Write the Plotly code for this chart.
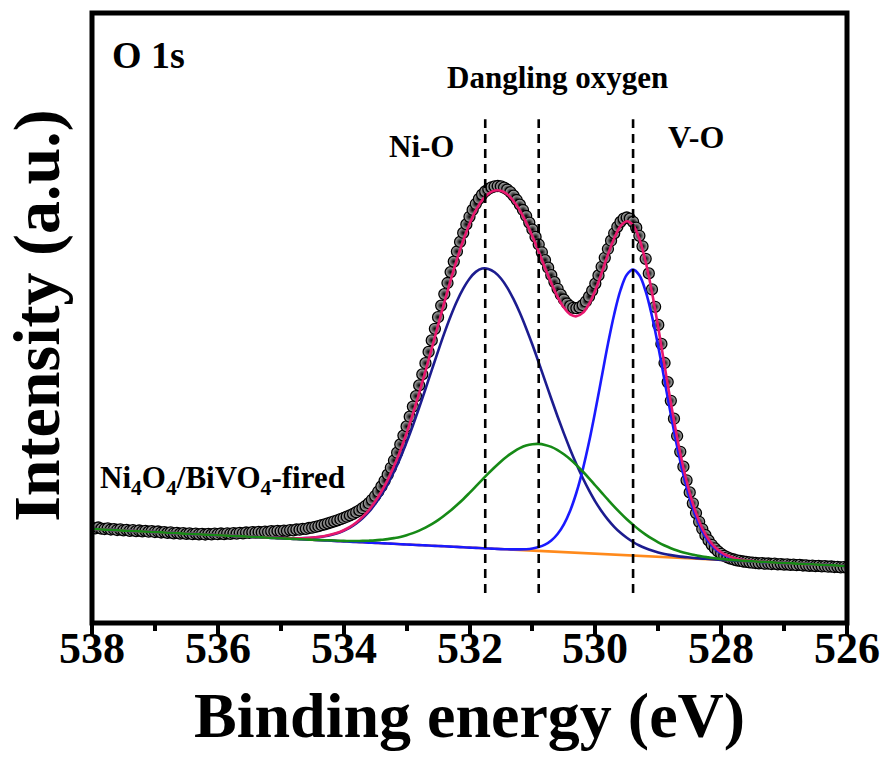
import numpy as np
import plotly.graph_objects as go

# ---------------------------------------------------------------
# O 1s XPS spectrum of Ni4O4/BiVO4-fired with its peak fit
# ---------------------------------------------------------------

# Binding-energy sampling (eV): spectrum every 0.05 eV, fit curves every 0.1 eV
BE_START = 538.0
DATA_STEP = 0.05
FIT_STEP = 0.1

# Measured intensity (a.u.), 538.00 eV -> 526.00 eV
intensity = [
    9.52, 9.47, 9.55, 9.44, 9.40, 9.46, 9.35, 9.38, 9.30, 9.36,
    9.27, 9.31, 9.22, 9.28, 9.19, 9.25, 9.16, 9.21, 9.13, 9.18,
    9.10, 9.15, 9.05, 9.09, 9.01, 9.06, 8.97, 9.02, 8.94, 8.99,
    8.91, 8.96, 8.88, 8.94, 8.87, 8.92, 8.85, 8.91, 8.86, 8.93,
    8.88, 8.95, 8.89, 8.97, 8.92, 8.99, 8.94, 9.02, 8.97, 9.05,
    9.01, 9.08, 9.03, 9.11, 9.06, 9.14, 9.10, 9.18, 9.13, 9.21,
    9.17, 9.24, 9.21, 9.29, 9.27, 9.35, 9.33, 9.41, 9.42, 9.50,
    9.53, 9.62, 9.68, 9.78, 9.86, 9.97, 10.06, 10.17, 10.27, 10.38,
    10.50, 10.63, 10.76, 10.91, 11.08, 11.27, 11.48, 11.72, 11.98,
    12.32, 12.70, 13.15, 13.66, 14.22, 14.84, 15.52, 16.25, 17.03, 17.86,
    18.74, 19.66, 20.63, 21.64, 22.69, 23.76, 24.86, 25.98, 27.11, 28.26,
    29.42, 30.58, 31.74, 32.89, 34.00, 35.09, 36.14, 37.15, 38.11, 39.01,
    39.86, 40.62, 41.31, 41.90, 42.41, 42.84, 43.16, 43.40, 43.57, 43.66,
    43.70, 43.66, 43.54, 43.35, 43.09, 42.74, 42.30, 41.84, 41.30, 40.70,
    40.04, 39.35, 38.61, 37.85, 37.07, 36.29, 35.53, 34.78, 34.09, 33.42,
    32.84, 32.35, 31.95, 31.68, 31.52, 31.48, 31.57, 31.79, 32.15, 32.63,
    33.24, 33.94, 34.76, 35.62, 36.52, 37.40, 38.23, 38.97, 39.62, 40.11,
    40.43, 40.55, 40.43, 40.12, 39.53, 38.72, 37.67, 36.42, 34.96, 33.36,
    31.62, 29.81, 27.91, 26.00, 24.09, 22.22, 20.43, 18.70, 17.12, 15.63,
    14.27, 13.06, 11.97, 10.99, 10.12, 9.40, 8.78, 8.26, 7.82, 7.46,
    7.16, 6.92, 6.71, 6.56, 6.44, 6.35, 6.27, 6.21, 6.15, 6.11,
    6.07, 6.03,
    6.00, 5.96, 5.99, 5.93, 5.95, 5.90, 5.93, 5.87, 5.89, 5.84,
    5.87, 5.81, 5.83, 5.78, 5.81, 5.75, 5.77, 5.72, 5.74, 5.69,
    5.71, 5.66, 5.68, 5.63, 5.65, 5.60, 5.62, 5.57, 5.59, 5.55,
]

# Fitted components (background included), 538.0 eV -> 526.0 eV
fit_ni_o = [
    9.40, 9.37, 9.34, 9.31, 9.27, 9.24, 9.21, 9.18, 9.15, 9.12,
    9.09, 9.06, 9.03, 9.00, 8.96, 8.93, 8.90, 8.87, 8.84, 8.81,
    8.78, 8.75, 8.72, 8.69, 8.66, 8.63, 8.60, 8.57, 8.54, 8.52,
    8.50, 8.48, 8.48, 8.48, 8.50, 8.53, 8.59, 8.68, 8.81, 8.98,
    9.23, 9.54, 9.95, 10.47, 11.10, 11.89, 12.81, 13.88, 15.12, 16.51,
    18.06, 19.74, 21.53, 23.40, 25.29, 27.17, 28.99, 30.68, 32.18, 33.44,
    34.43, 35.11, 35.44, 35.41, 35.08, 34.45, 33.54, 32.38, 31.02, 29.48,
    27.82, 26.05, 24.23, 22.42, 20.65, 18.96, 17.36, 15.87, 14.50, 13.26,
    12.14, 11.18, 10.34, 9.62, 9.02, 8.52, 8.10, 7.75, 7.48, 7.25,
    7.06, 6.91, 6.79, 6.69, 6.61, 6.55, 6.49, 6.44, 6.40, 6.35,
    6.31, 6.27, 6.24, 6.21, 6.18, 6.15, 6.12, 6.09, 6.06, 6.03,
    6.00, 5.97, 5.94, 5.92, 5.89, 5.85, 5.82, 5.79, 5.76, 5.73,
    5.70,
]
fit_dangling = [
    9.40, 9.37, 9.34, 9.31, 9.27, 9.24, 9.21, 9.18, 9.15, 9.12,
    9.09, 9.06, 9.03, 9.00, 8.96, 8.93, 8.90, 8.87, 8.84, 8.81,
    8.78, 8.75, 8.72, 8.69, 8.66, 8.63, 8.60, 8.56, 8.53, 8.50,
    8.47, 8.44, 8.41, 8.38, 8.35, 8.33, 8.30, 8.28, 8.26, 8.23,
    8.21, 8.20, 8.20, 8.21, 8.23, 8.26, 8.32, 8.39, 8.49, 8.61,
    8.78, 8.99, 9.24, 9.54, 9.89, 10.29, 10.75, 11.24, 11.80, 12.38,
    13.01, 13.66, 14.31, 14.96, 15.58, 16.16, 16.68, 17.12, 17.48, 17.74,
    17.88, 17.91, 17.81, 17.61, 17.29, 16.87, 16.37, 15.79, 15.15, 14.47,
    13.75, 13.04, 12.33, 11.64, 10.99, 10.37, 9.82, 9.30, 8.84, 8.43,
    8.07, 7.75, 7.48, 7.25, 7.06, 6.90, 6.77, 6.65, 6.56, 6.47,
    6.40, 6.34, 6.29, 6.25, 6.21, 6.17, 6.13, 6.10, 6.06, 6.03,
    6.00, 5.97, 5.94, 5.92, 5.89, 5.85, 5.82, 5.79, 5.76, 5.73,
    5.70,
]
fit_v_o = [
    9.40, 9.37, 9.34, 9.31, 9.27, 9.24, 9.21, 9.18, 9.15, 9.12,
    9.09, 9.06, 9.03, 9.00, 8.96, 8.93, 8.90, 8.87, 8.84, 8.81,
    8.78, 8.75, 8.72, 8.69, 8.66, 8.63, 8.60, 8.56, 8.53, 8.50,
    8.47, 8.44, 8.41, 8.38, 8.35, 8.32, 8.29, 8.26, 8.23, 8.19,
    8.16, 8.13, 8.10, 8.07, 8.04, 8.01, 7.98, 7.95, 7.92, 7.88,
    7.85, 7.82, 7.79, 7.76, 7.73, 7.70, 7.67, 7.64, 7.61, 7.57,
    7.54, 7.51, 7.48, 7.45, 7.42, 7.39, 7.37, 7.36, 7.36, 7.38,
    7.45, 7.59, 7.83, 8.25, 8.90, 9.87, 11.23, 13.05, 15.34, 18.09,
    21.22, 24.57, 27.90, 30.88, 33.28, 34.83, 35.34, 34.77, 33.16, 30.70,
    27.66, 24.26, 20.85, 17.65, 14.84, 12.49, 10.61, 9.19, 8.16, 7.44,
    6.96, 6.65, 6.45, 6.32, 6.24, 6.18, 6.13, 6.09, 6.06, 6.03,
    6.00, 5.97, 5.94, 5.92, 5.89, 5.85, 5.82, 5.79, 5.76, 5.73,
    5.70,
]
fit_envelope = [
    9.40, 9.37, 9.34, 9.31, 9.27, 9.24, 9.21, 9.18, 9.15, 9.12,
    9.09, 9.06, 9.03, 9.00, 8.96, 8.93, 8.90, 8.87, 8.84, 8.81,
    8.78, 8.75, 8.72, 8.69, 8.66, 8.63, 8.60, 8.57, 8.54, 8.52,
    8.50, 8.48, 8.48, 8.48, 8.50, 8.54, 8.60, 8.70, 8.84, 9.02,
    9.28, 9.61, 10.05, 10.61, 11.29, 12.14, 13.15, 14.32, 15.69, 17.24,
    18.99, 20.91, 22.98, 25.18, 27.45, 29.76, 32.07, 34.28, 36.37, 38.25,
    39.90, 41.26, 42.27, 42.92, 43.24, 43.23, 42.87, 42.20, 41.26, 40.06,
    38.67, 37.13, 35.53, 34.00, 32.62, 31.54, 30.86, 30.67, 31.01, 31.90,
    33.27, 35.01, 36.85, 38.48, 39.69, 40.18, 39.78, 38.40, 36.12, 33.08,
    29.55, 25.76, 22.02, 18.55, 15.53, 13.02, 11.01, 9.48, 8.38, 7.60,
    7.07, 6.72, 6.50, 6.35, 6.26, 6.19, 6.14, 6.10, 6.06, 6.03,
    6.00, 5.97, 5.94, 5.92, 5.89, 5.85, 5.82, 5.79, 5.76, 5.73,
    5.70,
]

# Shirley-type background
bg_energy = [538, 537, 536, 535, 534, 533, 532, 531, 530, 529, 528, 527, 526]
background = [9.40, 9.09, 8.78, 8.47, 8.16, 7.85, 7.54, 7.24, 6.92, 6.62, 6.30, 6.00, 5.70]

# Component centres (eV) marked with dashed guides
peak_centres = [531.75, 530.9, 529.4]

x_ticks = [538, 536, 534, 532, 530, 528, 526]

be_data = np.round(BE_START - DATA_STEP * np.arange(len(intensity)), 2)
be_fit = np.round(BE_START - FIT_STEP * np.arange(len(fit_envelope)), 2)
for series in (fit_ni_o, fit_dangling, fit_v_o):
    assert len(series) == len(be_fit)

SERIF = "Liberation Serif, Times New Roman, serif"

fig = go.Figure()

# measured points: dark shaded spheres
fig.add_trace(go.Scatter(
    x=be_data, y=intensity, mode="markers",
    marker=dict(size=11, color="#bdbdbd",
                gradient=dict(type="radial", color="#000000"),
                line=dict(color="#000000", width=1.3)),
    showlegend=False,
))

line_kw = dict(mode="lines", line_shape="spline", showlegend=False)
fig.add_trace(go.Scatter(x=bg_energy, y=background, mode="lines",
                         line=dict(color="#ff8a1c", width=2.6), showlegend=False))
fig.add_trace(go.Scatter(x=be_fit, y=fit_ni_o, line=dict(color="#1c1c8f", width=2.6), **line_kw))
fig.add_trace(go.Scatter(x=be_fit, y=fit_v_o, line=dict(color="#1a1aff", width=2.6), **line_kw))
fig.add_trace(go.Scatter(x=be_fit, y=fit_envelope, line=dict(color="#e8186e", width=2.6), **line_kw))
fig.add_trace(go.Scatter(x=be_fit, y=fit_dangling, line=dict(color="#168a16", width=2.6), **line_kw))

shapes = []
for c in peak_centres:
    shapes.append(dict(type="line", xref="x", yref="paper", x0=c, x1=c, y0=0.049, y1=0.826,
                       line=dict(color="black", width=2.6, dash="9px,6px")))
# plot frame
shapes.append(dict(type="rect", xref="paper", yref="paper", x0=0, x1=1, y0=0, y1=1,
                   line=dict(color="black", width=5)))


def label(text, x, y, size, xanchor="center", angle=0, xref="paper"):
    return dict(text=f"<b>{text}</b>", x=x, y=y, xref=xref, yref="paper",
                xanchor=xanchor, yanchor="middle", showarrow=False, textangle=angle,
                font=dict(family=SERIF, size=size, color="black"))


annotations = [
    label("O 1s", 0.024, 0.931, 38, xanchor="left"),
    label("Dangling oxygen", 0.617, 0.895, 31),
    label("Ni-O", 0.437, 0.781, 31),
    label("V-O", 0.800, 0.797, 32),
    label("Ni<sub>4</sub>O<sub>4</sub>/BiVO<sub>4</sub>-fired", 0.008, 0.234, 31, xanchor="left"),
    label("Binding energy (eV)", 0.5, -0.151, 64),
    label("Intensity (a.u.)", -0.073, 0.505, 66, angle=-90),
]
# tick labels placed just under the frame
for t in x_ticks:
    annotations.append(label(str(t), t, -0.042, 44, xref="x"))

fig.update_layout(
    width=891, height=758,
    margin=dict(l=92, r=44, t=13, b=135),
    paper_bgcolor="white", plot_bgcolor="white",
    shapes=shapes, annotations=annotations,
    xaxis=dict(range=[538, 526], tickvals=x_ticks, showticklabels=False,
               ticks="outside", ticklen=12, tickwidth=4, tickcolor="black",
               minor=dict(dtick=1, tick0=526, ticks="outside", ticklen=7, tickwidth=3.5, tickcolor="black"),
               showgrid=False, zeroline=False, showline=False),
    yaxis=dict(range=[0, 61], showticklabels=False, ticks="", showgrid=False,
               zeroline=False, showline=False),
)

fig.write_html("out.html")
